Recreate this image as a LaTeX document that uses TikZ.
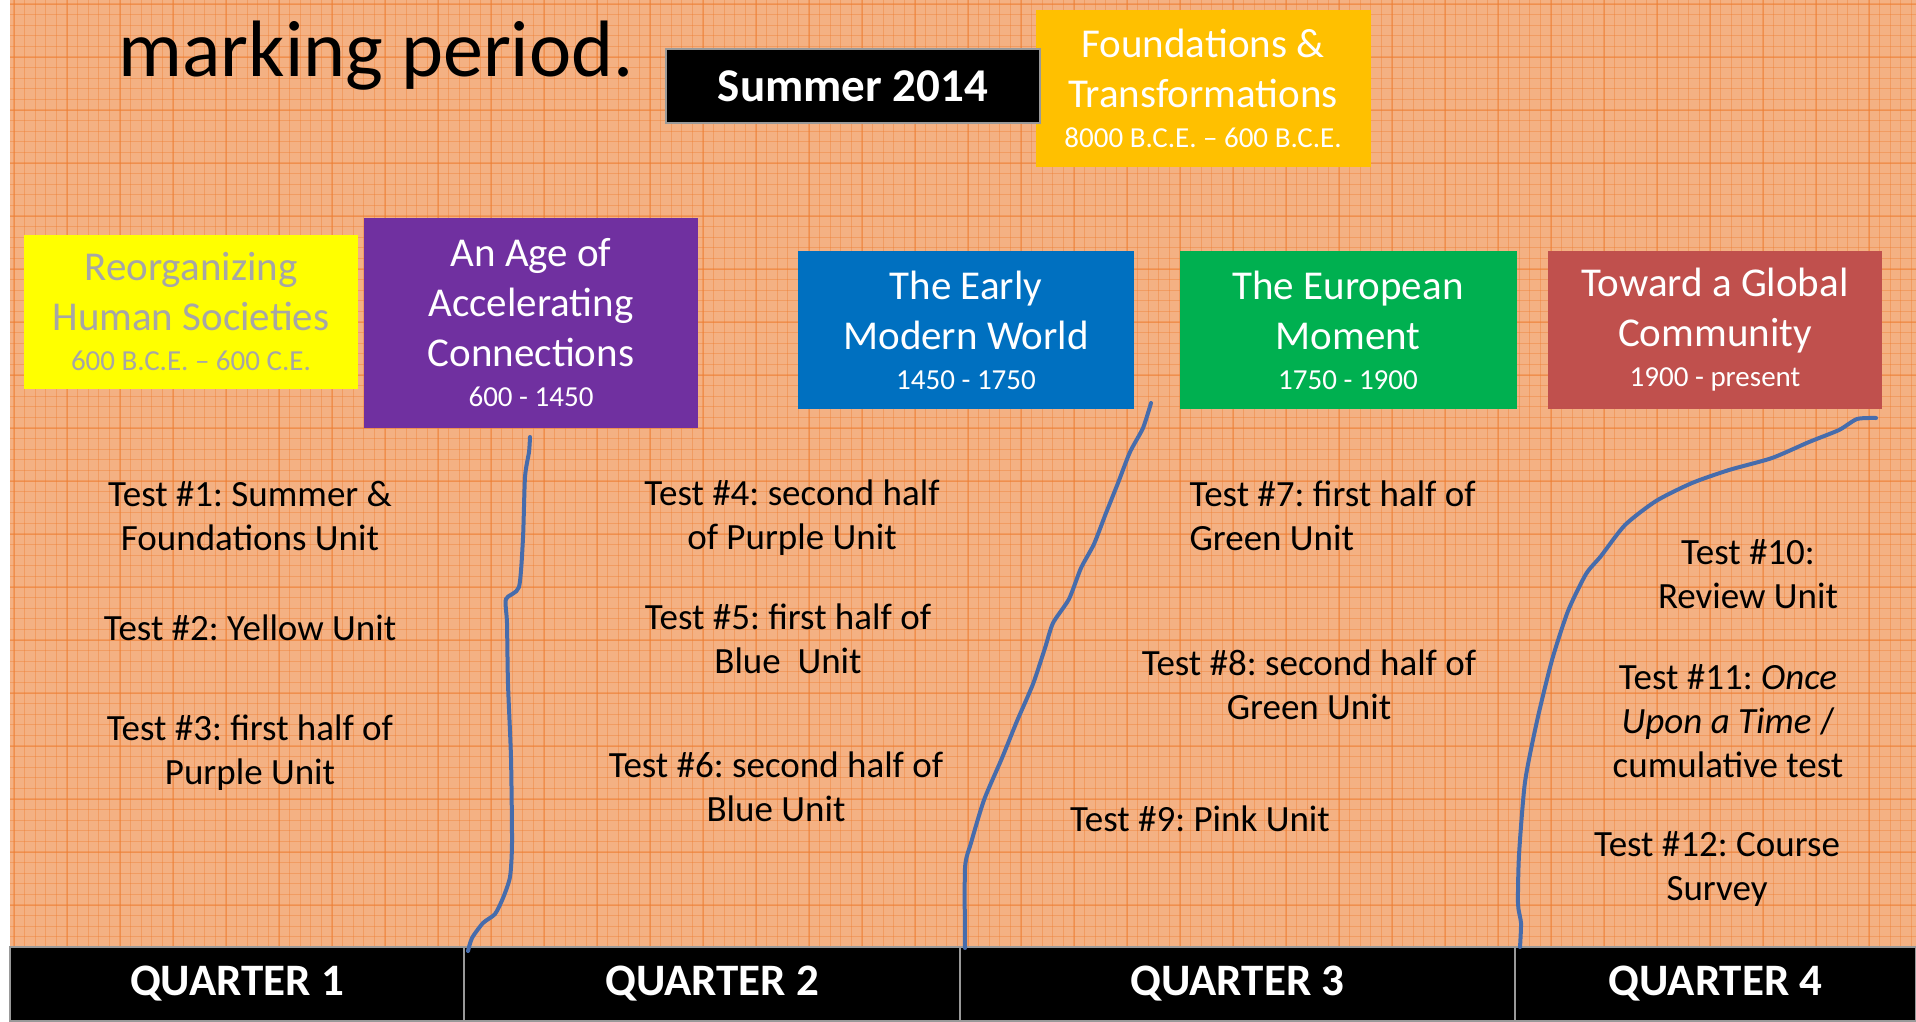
\documentclass[tikz,border=0pt]{standalone}
\usepackage{fontspec}
\setmainfont{Carlito}
\usetikzlibrary{positioning}
\frenchspacing

\definecolor{peach}{RGB}{244,177,131}
\definecolor{gridorange}{RGB}{237,125,49}
\definecolor{unitgold}{RGB}{255,192,0}
\definecolor{unityellow}{RGB}{255,255,0}
\definecolor{unitpurple}{RGB}{112,48,160}
\definecolor{unitblue}{RGB}{0,112,192}
\definecolor{unitgreen}{RGB}{0,176,80}
\definecolor{unitred}{RGB}{192,80,77}
\definecolor{softgray}{RGB}{166,166,166}
\definecolor{penblue}{RGB}{70,108,172}

\newcommand{\erafont}{\fontsize{41}{50}\selectfont}
\newcommand{\datefont}{\fontsize{29}{34}\selectfont}

\tikzset{
  unitbox/.style={rectangle, inner sep=0pt, align=center, text=white, font=\erafont},
  testnote/.style={align=center, font=\fontsize{37}{44}\selectfont},
  quarter/.style={rectangle, fill=black, draw=gray!80, line width=1.5pt, minimum height=74,
                  inner sep=0pt, text=white, font=\fontsize{45}{54}\selectfont\bfseries},
  pen/.style={penblue, line width=4pt, line cap=round, line join=round},
  paperline/.style={gridorange, opacity=0.4, line width=1pt}
}

\begin{document}
\begin{tikzpicture}[x=1pt,y=-1pt]
    \useasboundingbox (0,0) rectangle (1916,1021);
    % graph paper
    \fill[white] (0,0) rectangle (1916,1021);
    \fill[peach] (10,0) rectangle (1916,947);
    \foreach \gx in {14,24.6,...,1916} \draw[paperline] (\gx,0) -- (\gx,947);
    \foreach \gy in {4,14.6,...,947} \draw[paperline] (10,\gy) -- (1916,\gy);
    \foreach \gx in {14,67,...,1916} \draw[paperline, line width=1.5pt] (\gx,0) -- (\gx,947);
    \foreach \gy in {4,57,...,947} \draw[paperline, line width=1.5pt] (10,\gy) -- (1916,\gy);

    \node[anchor=base west, font=\fontsize{80}{90}\selectfont] (heading) at (115,76) {marking period.};

    % units
    \node[unitbox, fill=unitgold, minimum width=335, minimum height=157] (found) at (1203,88)
        {Foundations \&\\Transformations\\[-10pt]\datefont 8000 B.C.E. – 600 B.C.E.};
    \node[unitbox, fill=black, draw=gray!80, line width=2pt, minimum width=374, minimum height=74,
          font=\fontsize{47}{56}\selectfont\bfseries] (summer) at (853,86) {Summer 2014};
    \node[unitbox, fill=unityellow, text=softgray, minimum width=334, minimum height=154] (reorg) at (191,312)
        {Reorganizing\\Human Societies\\[-10pt]\datefont 600 B.C.E. – 600 C.E.};
    \node[unitbox, fill=unitpurple, minimum width=334, minimum height=210] (accel) at (531,323)
        {An Age of\\Accelerating\\Connections\\[-10pt]\datefont 600 - 1450};
    \node[unitbox, fill=unitblue, minimum width=336, minimum height=158] (early) at (966,330)
        {The Early\\Modern World\\[-10pt]\datefont 1450 - 1750};
    \node[unitbox, fill=unitgreen, minimum width=337, minimum height=158] (europe) at (1348,330)
        {The European\\Moment\\[-10pt]\datefont 1750 - 1900};
    \node[unitbox, fill=unitred, minimum width=334, minimum height=158] (globe) at (1715,330)
        {Toward a Global\\Community\\[-10pt]\datefont 1900 - present};

    % tests
    \node[testnote] (t1) at (250,516) {Test \#1: Summer \&\\Foundations Unit};
    \node[testnote] (t2) at (250,628) {Test \#2: Yellow Unit};
    \node[testnote] (t3) at (250,753) {Test \#3: first half of\\Purple Unit};
    \node[testnote] (t4) at (792,518) {Test \#4: second half\\of Purple Unit};
    \node[testnote] (t5) at (788,639) {Test \#5: first half of\\Blue~ Unit};
    \node[testnote] (t6) at (776,787) {Test \#6: second half of\\Blue Unit};
    \node[testnote, align=left, anchor=west] (t7) at (1186,516) {Test \#7: first half of\\Green Unit};
    \node[testnote] (t8) at (1309,685) {Test \#8: second half of\\Green Unit};
    \node[testnote] (t9) at (1200,819) {Test \#9: Pink Unit};
    \node[testnote] (t10) at (1748,574) {Test \#10:\\Review Unit};
    \node[testnote] (t11) at (1728,721) {Test \#11: \textit{Once}\\\textit{Upon a Time} /\\cumulative test};
    \node[testnote] (t12) at (1717,869) {Test \#12: Course\\Survey};

    % quarters
    \node[quarter, minimum width=454] (q1) at (237,984) {QUARTER 1};
    \node[quarter, minimum width=496] (q2) at (712,984) {QUARTER 2};
    \node[quarter, minimum width=555] (q3) at (1237.5,984) {QUARTER 3};
    \node[quarter, minimum width=401] (q4) at (1715.5,984) {QUARTER 4};

    % hand drawn dividers
    \draw[pen] plot[smooth, tension=0.4] coordinates {(468,951) (472,938) (483,923) (495,914) (503,898)
        (510,877) (512,843) (511,758) (508,684) (507,623) (506,599) (519,587) (523,538) (525,477)
        (529,452) (530,437)};
    \draw[pen] plot[smooth, tension=0.4] coordinates {(965,948) (965,868) (971,843) (984,800) (1002,758)
        (1017,721) (1033,684) (1045,648) (1053,623) (1069,599) (1081,568) (1094,544) (1106,513)
        (1118,483) (1130,452) (1143,428) (1151,403)};
    \draw[pen] plot[smooth, tension=0.4] coordinates {(1520,947) (1521,923) (1518,904) (1519,855)
        (1525,782) (1537,721) (1552,660) (1568,611) (1586,574) (1601,556) (1625,525) (1656,501)
        (1692,483) (1729,470) (1772,458) (1809,442) (1839,430) (1857,419) (1876,418)};
\end{tikzpicture}
\end{document}
